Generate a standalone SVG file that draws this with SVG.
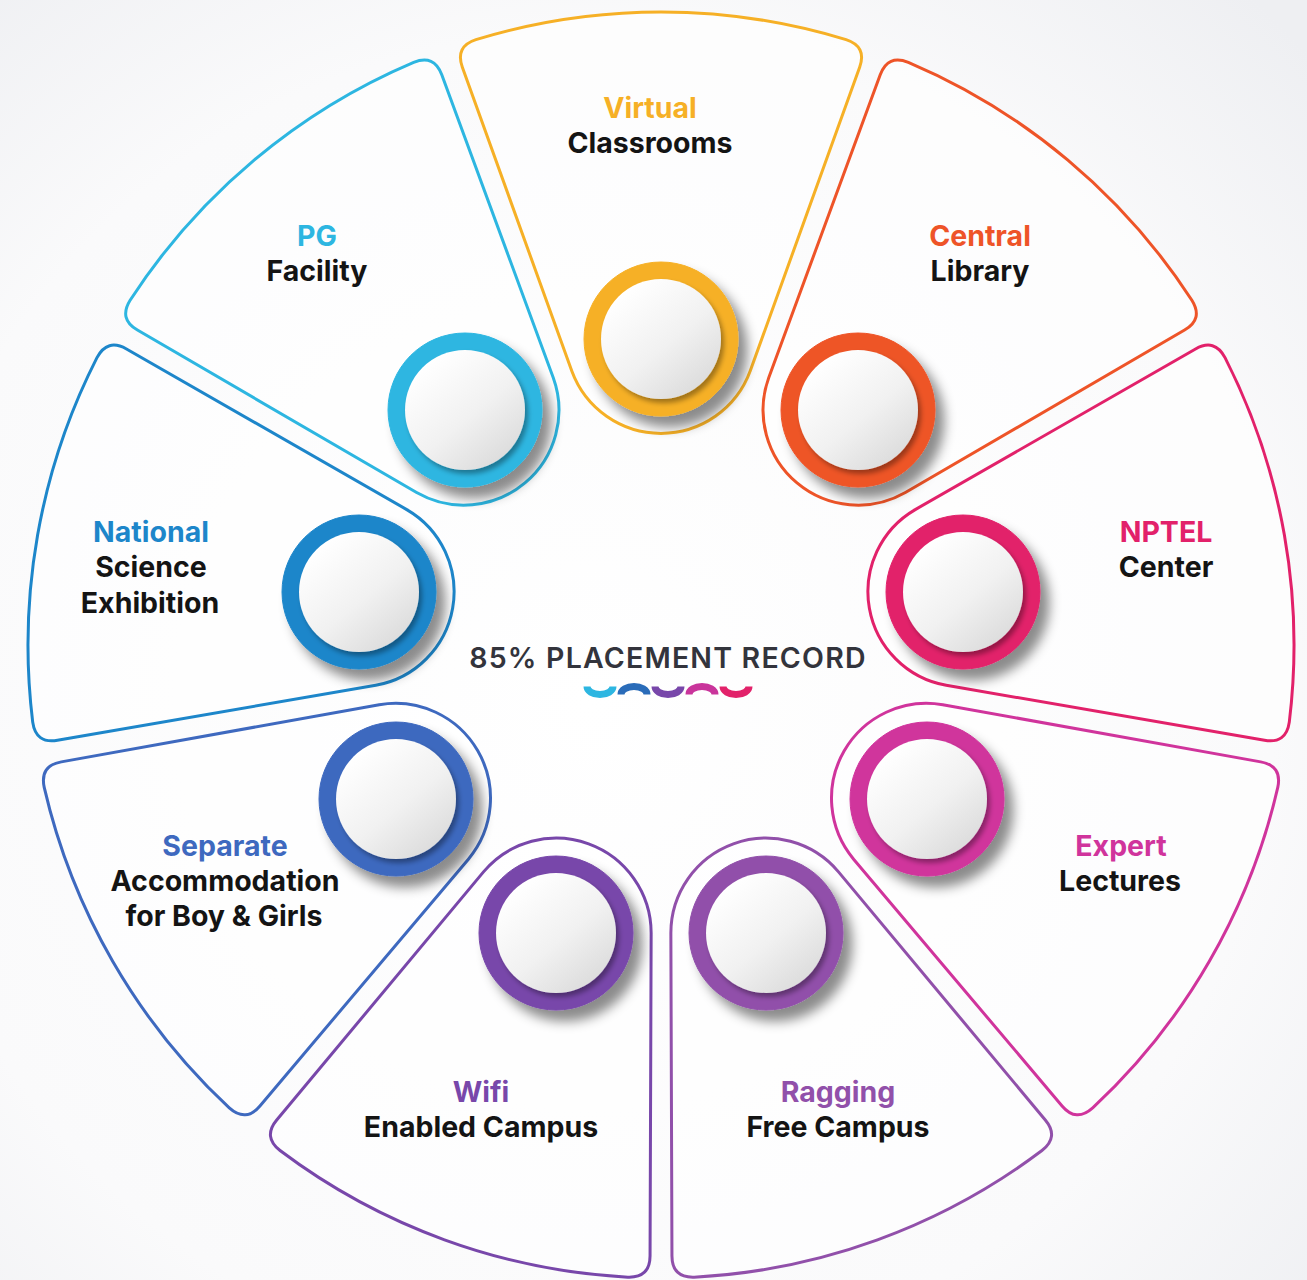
<svg xmlns="http://www.w3.org/2000/svg" xmlns:xlink="http://www.w3.org/1999/xlink" width="1307" height="1280" viewBox="0 0 1307 1280">
<style>
  .t { font-family: "Inter", "Liberation Sans", sans-serif; font-weight: 700; font-size: 28.5px; text-anchor: middle; }
  .k { fill: #141414; }
  use.petal { fill: #ffffff; fill-opacity: 0.6; stroke-width: 3; }
  .ring { filter: url(#ringShadow); }
  .disc { fill: url(#discGrad); filter: url(#discShadow); }
  .c0 { stroke: #f6b026; fill: #f6b026; }
  .c1 { stroke: #ee5428; fill: #ee5428; }
  .c2 { stroke: #e2216a; fill: #e2216a; }
  .c3 { stroke: #d0349c; fill: #d0349c; }
  .c4 { stroke: #9150aa; fill: #9150aa; }
  .c5 { stroke: #7847aa; fill: #7847aa; }
  .c6 { stroke: #3e69bf; fill: #3e69bf; }
  .c7 { stroke: #1d86ca; fill: #1d86ca; }
  .c8 { stroke: #2db6e1; fill: #2db6e1; }
  .logo path { fill: none; stroke-width: 7; }
</style>
<defs>
  <radialGradient id="bg" cx="0.45" cy="0.55" r="0.75">
    <stop offset="0" stop-color="#ffffff"/>
    <stop offset="0.7" stop-color="#fafafb"/>
    <stop offset="1" stop-color="#eeeff2"/>
  </radialGradient>
  <linearGradient id="discGrad" x1="0.2" y1="0.1" x2="0.85" y2="0.9">
    <stop offset="0" stop-color="#ffffff"/>
    <stop offset="0.55" stop-color="#f1f1f1"/>
    <stop offset="1" stop-color="#dcdcdc"/>
  </linearGradient>
  <filter id="ringShadow" x="-40%" y="-40%" width="190%" height="190%">
    <feDropShadow dx="9" dy="11" stdDeviation="6" flood-color="#000" flood-opacity="0.45"/>
  </filter>
  <filter id="discShadow" x="-30%" y="-30%" width="170%" height="170%">
    <feDropShadow dx="3" dy="4" stdDeviation="2.5" flood-color="#000" flood-opacity="0.35"/>
  </filter>
  <path id="petalShape" d="M89.2,-273.9 L198.65,-577.8 Q206.1,-598.5 185.07,-605.35 A633,633 0 0 0 -185.07,-605.35 Q-206.1,-598.5 -198.65,-577.8 L-89.2,-273.9 A95,95 0 0 0 89.2,-273.9 Z"/>
</defs>

<rect width="1307" height="1280" fill="url(#bg)"/>

<g id="petals">
  <use id="petal-virtual" xlink:href="#petalShape" class="petal c0" transform="translate(661,645) rotate(0)"/>
  <use id="petal-central" xlink:href="#petalShape" class="petal c1" transform="translate(661,645) rotate(40)"/>
  <use id="petal-nptel" xlink:href="#petalShape" class="petal c2" transform="translate(661,645) rotate(80)"/>
  <use id="petal-expert" xlink:href="#petalShape" class="petal c3" transform="translate(661,645) rotate(120)"/>
  <use id="petal-ragging" xlink:href="#petalShape" class="petal c4" transform="translate(661,645) rotate(160)"/>
  <use id="petal-wifi" xlink:href="#petalShape" class="petal c5" transform="translate(661,645) rotate(200)"/>
  <use id="petal-separate" xlink:href="#petalShape" class="petal c6" transform="translate(661,645) rotate(240)"/>
  <use id="petal-national" xlink:href="#petalShape" class="petal c7" transform="translate(661,645) rotate(280)"/>
  <use id="petal-pg" xlink:href="#petalShape" class="petal c8" transform="translate(661,645) rotate(320)"/>
</g>

<g id="connectors"></g>

<g id="node-virtual">
  <circle class="ring c0" cx="661" cy="339" r="77"/>
  <circle class="disc" cx="661" cy="339" r="60"/>
  <text class="t" x="650" y="118" fill="#f6b026">Virtual</text>
  <text class="t k" x="650" y="153">Classrooms</text>
</g>
<g id="node-central">
  <circle class="ring c1" cx="858" cy="410" r="77"/>
  <circle class="disc" cx="858" cy="410" r="60"/>
  <text class="t" x="980" y="246" fill="#ee5428">Central</text>
  <text class="t k" x="980" y="281">Library</text>
</g>
<g id="node-nptel">
  <circle class="ring c2" cx="963" cy="592" r="77"/>
  <circle class="disc" cx="963" cy="592" r="60"/>
  <text class="t" x="1166" y="542" fill="#e2216a">NPTEL</text>
  <text class="t k" x="1166" y="577">Center</text>
</g>
<g id="node-expert">
  <circle class="ring c3" cx="927" cy="799" r="77"/>
  <circle class="disc" cx="927" cy="799" r="60"/>
  <text class="t" x="1121" y="856" fill="#d0349c">Expert</text>
  <text class="t k" x="1120" y="891">Lectures</text>
</g>
<g id="node-ragging">
  <circle class="ring c4" cx="766" cy="933" r="77"/>
  <circle class="disc" cx="766" cy="933" r="60"/>
  <text class="t" x="838" y="1102" fill="#9150aa">Ragging</text>
  <text class="t k" x="838" y="1137">Free Campus</text>
</g>
<g id="node-wifi">
  <circle class="ring c5" cx="556" cy="933" r="77"/>
  <circle class="disc" cx="556" cy="933" r="60"/>
  <text class="t" x="481" y="1102" fill="#7847aa">Wifi</text>
  <text class="t k" x="481" y="1137">Enabled Campus</text>
</g>
<g id="node-separate">
  <circle class="ring c6" cx="396" cy="799" r="77"/>
  <circle class="disc" cx="396" cy="799" r="60"/>
  <text class="t" x="225" y="856" fill="#3e69bf">Separate</text>
  <text class="t k" x="225" y="891">Accommodation</text>
  <text class="t k" x="224" y="926">for Boy &amp; Girls</text>
</g>
<g id="node-national">
  <circle class="ring c7" cx="359" cy="592" r="77"/>
  <circle class="disc" cx="359" cy="592" r="60"/>
  <text class="t" x="151" y="542" fill="#1d86ca">National</text>
  <text class="t k" x="151" y="577">Science</text>
  <text class="t k" x="150" y="613">Exhibition</text>
</g>
<g id="node-pg">
  <circle class="ring c8" cx="465" cy="410" r="77"/>
  <circle class="disc" cx="465" cy="410" r="60"/>
  <text class="t" x="317" y="246" fill="#2db6e1">PG</text>
  <text class="t k" x="317" y="281">Facility</text>
</g>

<g id="center">
  <text class="t" x="668" y="668" fill="#33343c" style="font-weight:600; letter-spacing:1.2px">85% PLACEMENT RECORD</text>
  <g class="logo">
    <path d="M587,686.5 A13,8 0 0 0 613,686.5" stroke="#2db6e1"/>
    <path d="M621,694.5 A13,8 0 0 1 647,694.5" stroke="#2a6cb9"/>
    <path d="M655,686.5 A13,8 0 0 0 681,686.5" stroke="#7847aa"/>
    <path d="M689,694.5 A13,8 0 0 1 715,694.5" stroke="#c9349b"/>
    <path d="M723,686.5 A13,8 0 0 0 749,686.5" stroke="#e2226a"/>
  </g>
</g>
</svg>
